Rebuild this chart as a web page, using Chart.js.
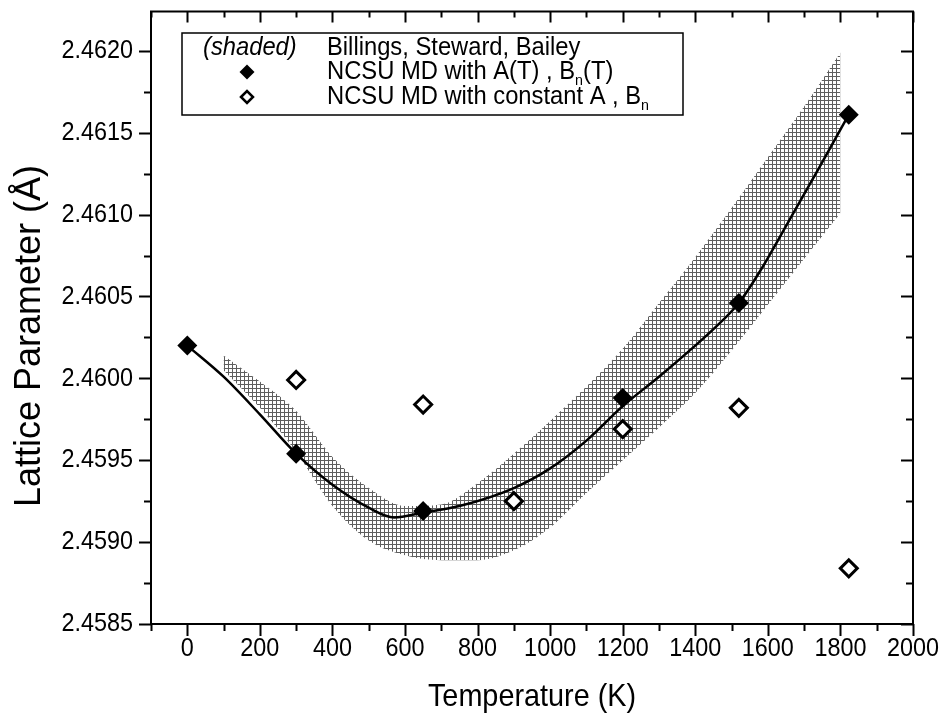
<!DOCTYPE html>
<html>
<head>
<meta charset="utf-8">
<script src="https://cdn.jsdelivr.net/npm/chart.js@4.4.1/dist/chart.umd.min.js"></script>
<style>
  html, body { margin: 0; padding: 0; background: #fff; }
  #wrap { width: 943px; height: 721px; }
</style>
</head>
<body>
<div id="wrap"><canvas id="chart" width="943" height="721"></canvas></div>
<script>
// axis ticks
const xTicks = [0, 200, 400, 600, 800, 1000, 1200, 1400, 1600, 1800, 2000];
const yTicks = [2.4585, 2.4590, 2.4595, 2.4600, 2.4605, 2.4610, 2.4615, 2.4620];

// shaded band (Billings, Steward, Bailey)
const bandT = [100, 200, 300, 400, 500, 600, 700, 800, 900, 1000, 1100, 1200, 1300, 1400, 1500, 1600, 1700, 1800];
const bandUpper = [2.46014, 2.45998, 2.45980, 2.45952, 2.45933, 2.45922, 2.45923, 2.45936, 2.45954, 2.45974, 2.45995, 2.46018, 2.46046, 2.46074, 2.46104, 2.46135, 2.46166, 2.46199];
const bandLower = [2.46005, 2.45982, 2.45955, 2.45922, 2.45901, 2.45892, 2.45889, 2.45889, 2.45895, 2.45909, 2.45930, 2.45950, 2.45970, 2.45991, 2.46017, 2.46045, 2.46073, 2.46101];

// fitted curve through the A(T), Bn(T) points
const fitT = [0, 100, 200, 300, 400, 500, 570, 650, 750, 900, 1000, 1100, 1200, 1300, 1400, 1450, 1520, 1580, 1650, 1740, 1823];
const fitV = [2.46020, 2.46001, 2.45978, 2.45954, 2.45935, 2.45921, 2.45915, 2.45918, 2.45922, 2.45933, 2.45945, 2.45962, 2.45983, 2.46001, 2.46020, 2.46030, 2.46046, 2.46066, 2.46093, 2.46128, 2.46161];

// NCSU MD with A(T), Bn(T)
const filledT = [0, 300, 650, 1200, 1520, 1823];
const filledV = [2.46020, 2.45954, 2.45919, 2.45988, 2.46046, 2.46161];

// NCSU MD with constant A, Bn
const openT = [300, 650, 900, 1200, 1520, 1823];
const openV = [2.45999, 2.45984, 2.45925, 2.45969, 2.45982, 2.45884];

const FONT = "'Liberation Sans', Arial, sans-serif";

function pts(xs, ys) {
  return xs.map((x, i) => ({ x: x, y: ys[i] }));
}

function hatchPattern() {
  const c = document.createElement("canvas");
  c.width = 4; c.height = 4;
  const g = c.getContext("2d");
  g.fillStyle = "#ffffff";
  g.fillRect(0, 0, 4, 4);
  g.fillStyle = "#5e5e5e";
  g.fillRect(0, 0, 4, 1);
  g.fillRect(0, 0, 1, 4);
  return g.createPattern(c, "repeat");
}

function noPad(s) {
  s.paddingTop = 0; s.paddingBottom = 0;
  s.paddingLeft = 0; s.paddingRight = 0;
}

// slightly narrow lettering, like the figure; returns drawn width
function say(ctx, str, x, y, size, align, opts) {
  opts = opts || {};
  const sq = opts.sq || 0.9;
  ctx.save();
  ctx.font = (opts.italic ? "italic " : "") + size + "px " + FONT;
  ctx.fillStyle = "#000";
  ctx.textAlign = align;
  ctx.textBaseline = "middle";
  ctx.translate(x, y);
  if (opts.rotate) ctx.rotate(opts.rotate);
  ctx.scale(sq, 1);
  ctx.fillText(str, 0, 0);
  const w = ctx.measureText(str).width * sq;
  ctx.restore();
  return w;
}

// frame, ticks on all four sides, labels, legend box
const framePlugin = {
  id: "frame",
  afterDraw(chart) {
    const ctx = chart.ctx;
    const a = chart.chartArea;
    const xs = chart.scales.x;
    const ys = chart.scales.y;
    ctx.save();
    ctx.strokeStyle = "#000";
    ctx.lineWidth = 2;
    ctx.strokeRect(a.left, a.top, a.right - a.left, a.bottom - a.top);

    ctx.beginPath();
    for (let v = -100; v <= 2000; v += 100) {
      const px = Math.round(xs.getPixelForValue(v)) + 0.5;
      const major = v % 200 === 0;
      ctx.moveTo(px, a.bottom); ctx.lineTo(px, a.bottom + (major ? 12 : 7));
      ctx.moveTo(px, a.top); ctx.lineTo(px, a.top + (major ? 11 : 6));
    }
    for (let k = 0; k <= 14; k++) {
      const v = 2.4585 + k * 0.00025;
      const py = Math.round(ys.getPixelForValue(v)) + 0.5;
      const major = k % 2 === 0;
      ctx.moveTo(a.left, py); ctx.lineTo(a.left - (major ? 12 : 7), py);
      ctx.moveTo(a.right, py); ctx.lineTo(a.right - (major ? 12 : 7), py);
    }
    ctx.stroke();

    // tick labels
    xTicks.forEach((v) => say(ctx, String(v), xs.getPixelForValue(v), 649, 26, "center"));
    yTicks.forEach((v) => say(ctx, v.toFixed(4), 133, ys.getPixelForValue(v), 26, "right"));

    // axis titles
    say(ctx, "Temperature (K)", (a.left + a.right) / 2, 697, 32, "center");
    say(ctx, "Lattice Parameter (Å)", 30, 336, 36, "center", { rotate: -Math.PI / 2, sq: 1 });

    // legend
    const L = { left: 182, top: 33, right: 683, bottom: 115 };
    ctx.fillStyle = "#fff";
    ctx.fillRect(L.left, L.top, L.right - L.left, L.bottom - L.top);
    ctx.lineWidth = 1.5;
    ctx.strokeStyle = "#000";
    ctx.strokeRect(L.left, L.top, L.right - L.left, L.bottom - L.top);

    const rows = [48, 72, 97];
    const tx = 327;
    say(ctx, "(shaded)", 203, rows[0], 25, "left", { italic: true, sq: 0.95 });
    say(ctx, "Billings, Steward, Bailey", tx, rows[0], 25, "left", { sq: 0.95 });

    function diamond(cx, cy, r, filled) {
      ctx.beginPath();
      ctx.moveTo(cx - r, cy); ctx.lineTo(cx, cy - r);
      ctx.lineTo(cx + r, cy); ctx.lineTo(cx, cy + r);
      ctx.closePath();
      if (filled) { ctx.fillStyle = "#000"; ctx.fill(); }
      else { ctx.fillStyle = "#fff"; ctx.fill(); ctx.lineWidth = 2.5; ctx.strokeStyle = "#000"; ctx.stroke(); }
    }
    diamond(247, rows[1], 7.5, true);
    diamond(247, rows[2], 6, false);

    function subText(parts, x, y) {
      for (const p of parts) {
        if (p.sub) x += say(ctx, p.t, x, y + 9, 15, "left", { sq: 0.95 });
        else x += say(ctx, p.t, x, y, 25, "left", { sq: 0.95 });
      }
    }
    subText([{ t: "NCSU MD with A(T) , B" }, { t: "n", sub: true }, { t: "(T)" }], tx, rows[1]);
    subText([{ t: "NCSU MD with constant A , B" }, { t: "n", sub: true }], tx, rows[2]);
    ctx.restore();
  }
};

const hatch = hatchPattern();

new Chart(document.getElementById("chart"), {
  type: "scatter",
  data: {
    datasets: [
      {
        label: "band lower",
        type: "line",
        data: pts(bandT, bandLower),
        borderWidth: 0,
        borderColor: "rgba(0,0,0,0)",
        pointRadius: 0,
        cubicInterpolationMode: "monotone",
        fill: false,
        order: 5
      },
      {
        label: "Billings, Steward, Bailey",
        type: "line",
        data: pts(bandT, bandUpper),
        borderWidth: 0,
        borderColor: "rgba(0,0,0,0)",
        backgroundColor: hatch,
        pointRadius: 0,
        cubicInterpolationMode: "monotone",
        fill: "-1",
        order: 4
      },
      {
        label: "fit",
        type: "line",
        data: pts(fitT, fitV),
        borderColor: "#000",
        borderWidth: 2.5,
        pointRadius: 0,
        cubicInterpolationMode: "monotone",
        fill: false,
        order: 3
      },
      {
        label: "NCSU MD with constant A , Bn",
        data: pts(openT, openV),
        pointStyle: "rectRot",
        pointRadius: 8.5,
        pointBorderWidth: 3,
        pointBackgroundColor: "#fff",
        pointBorderColor: "#000",
        order: 2
      },
      {
        label: "NCSU MD with A(T) , Bn(T)",
        data: pts(filledT, filledV),
        pointStyle: "rectRot",
        pointRadius: 10,
        pointBorderWidth: 0,
        pointBackgroundColor: "#000",
        pointBorderColor: "#000",
        order: 1
      }
    ]
  },
  options: {
    responsive: false,
    animation: false,
    layout: { padding: { top: 8, right: 30, left: 0, bottom: 0 } },
    plugins: { legend: { display: false }, tooltip: { enabled: false } },
    scales: {
      x: {
        type: "linear",
        min: -100,
        max: 2000,
        afterBuildTicks: (s) => { s.ticks = xTicks.map((v) => ({ value: v })); },
        afterFit: (s) => { s.height = 97; noPad(s); },
        grid: { display: false, drawTicks: false },
        border: { display: false },
        ticks: { display: false }
      },
      y: {
        type: "linear",
        min: 2.4585,
        max: 2.46224,
        afterBuildTicks: (s) => { s.ticks = yTicks.map((v) => ({ value: v })); },
        afterFit: (s) => { s.width = 151; noPad(s); },
        grid: { display: false, drawTicks: false },
        border: { display: false },
        ticks: { display: false }
      }
    }
  },
  plugins: [framePlugin]
});
</script>
</body>
</html>
